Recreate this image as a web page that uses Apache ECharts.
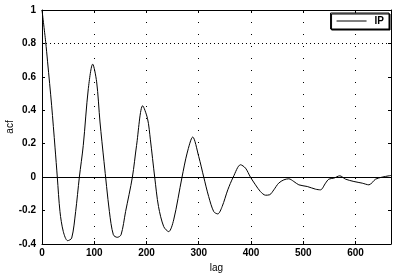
<!DOCTYPE html>
<html><head><meta charset="utf-8">
<script src="https://cdn.jsdelivr.net/npm/echarts@6/dist/echarts.min.js"></script>
<style>html,body{margin:0;padding:0;background:#fff}#c{width:400px;height:276px}</style>
</head><body><div id="c"></div>
<script>
const lags = [0,7,10.7,18.4,25,29.3,34.4,40.8,49,56.8,64.4,71.5,79,88.7,97,104.6,111,118.7,129,136.6,144,151.3,160,173,181,192.7,202,207.5,215.7,223,233,242.5,252,268,277.8,288.5,300,309.6,319,328.7,336.4,344.8,355.6,366,380,389.5,399,408.6,418,427.8,436,443.7,453,463,472.4,482,491.6,507.7,523.6,533,542.7,549,558.6,570,581,597,613,625.7,638.5,651,664,668];
const acf = [1,0.81,0.69,0.43,0.175,0,-0.206,-0.326,-0.38,-0.365,-0.206,0,0.19,0.53,0.676,0.57,0.33,0.093,-0.206,-0.345,-0.36,-0.345,-0.206,0,0.19,0.427,0.35,0.223,0,-0.176,-0.296,-0.326,-0.256,0,0.144,0.24,0.123,0,-0.116,-0.206,-0.22,-0.176,-0.076,0,0.074,0.054,0,-0.046,-0.086,-0.108,-0.105,-0.076,-0.036,-0.016,-0.01,-0.026,-0.046,-0.056,-0.072,-0.076,-0.036,-0.012,-0.006,0.008,-0.012,-0.026,-0.036,-0.046,-0.012,0,0.008,0.01];
const xTicks = [0,100,200,300,400,500,600];
const yTicks = [-0.4,-0.2,0,0.2,0.4,0.6,0.8,1];
const seriesName = 'IP';
const xName = 'lag', yName = 'acf';
const refLines = [0.8];

const font = 'Liberation Sans';
const chart = echarts.init(document.getElementById('c'));
const lblY = v => yTicks.includes(+v.toFixed(1)) ? String(+v.toFixed(1)) : '';
chart.setOption({
  animation:false,
  grid:{left:42,right:9,top:10,bottom:32,containLabel:false,outerBoundsMode:'none'},
  legend:{show:true,right:11,top:13,data:[seriesName],icon:'path://M0 0 H30 V1 H0 Z',itemWidth:30,itemHeight:1,itemGap:0,
    padding:[3,5,3,6],borderColor:'#000',borderWidth:1,backgroundColor:'#fff',
    shadowColor:'#000',shadowOffsetX:1,shadowOffsetY:1,shadowBlur:0,
    itemStyle:{color:'#000'},
    textStyle:{fontFamily:font,fontSize:10,fontWeight:'bold',color:'#000',padding:[0,0,0,3]}},
  xAxis:[{type:'value',min:0,max:668,interval:100,position:'bottom',
      name:xName,nameLocation:'middle',nameGap:19,nameMoveOverlap:false,nameTextStyle:{fontFamily:font,fontSize:10,color:'#000'},
      axisLine:{onZero:false,lineStyle:{color:'#000',width:1}},
      axisTick:{inside:true,length:3,lineStyle:{color:'#000'}},
      axisLabel:{fontFamily:font,fontSize:10,fontWeight:'bold',color:'#000',margin:4,
        formatter:v=>xTicks.includes(v)?String(v):''},
      splitLine:{show:true,lineStyle:{color:'#000',type:[1,11],width:1}}},
    {type:'value',min:0,max:668,interval:100,position:'top',
      axisLine:{show:true,onZero:false,lineStyle:{color:'#000'}},
      axisTick:{inside:true,length:3,lineStyle:{color:'#000'}},
      axisLabel:{show:false},splitLine:{show:false}}],
  yAxis:[{type:'value',min:-0.4,max:1,interval:0.2,position:'left',
      name:yName,nameLocation:'middle',nameGap:27,nameMoveOverlap:false,nameTextStyle:{fontFamily:font,fontSize:10,color:'#000'},
      axisLine:{show:true,onZero:false,lineStyle:{color:'#000'}},
      axisTick:{show:true,inside:true,length:3,lineStyle:{color:'#000'}},
      axisLabel:{fontFamily:font,fontSize:10,fontWeight:'bold',color:'#000',margin:6,formatter:lblY},
      splitLine:{show:false}},
    {type:'value',min:-0.4,max:1,interval:0.2,position:'right',
      axisLine:{show:true,onZero:false,lineStyle:{color:'#000'}},
      axisTick:{show:true,inside:true,length:3,lineStyle:{color:'#000'}},
      axisLabel:{show:false},splitLine:{show:false}}],
  series:[{name:seriesName,type:'line',data:lags.map((x,i)=>[x,acf[i]]),symbol:'none',smooth:0.3,
    lineStyle:{color:'#000',width:1},itemStyle:{color:'#000'},
    markLine:{silent:true,symbol:'none',label:{show:false},
      data:[{yAxis:0,lineStyle:{color:'#000',width:1,type:'solid'}}].concat(
        refLines.map(v=>({yAxis:v,lineStyle:{color:'#000',width:1,type:[1,3]}})))}}]
});
</script></body></html>
